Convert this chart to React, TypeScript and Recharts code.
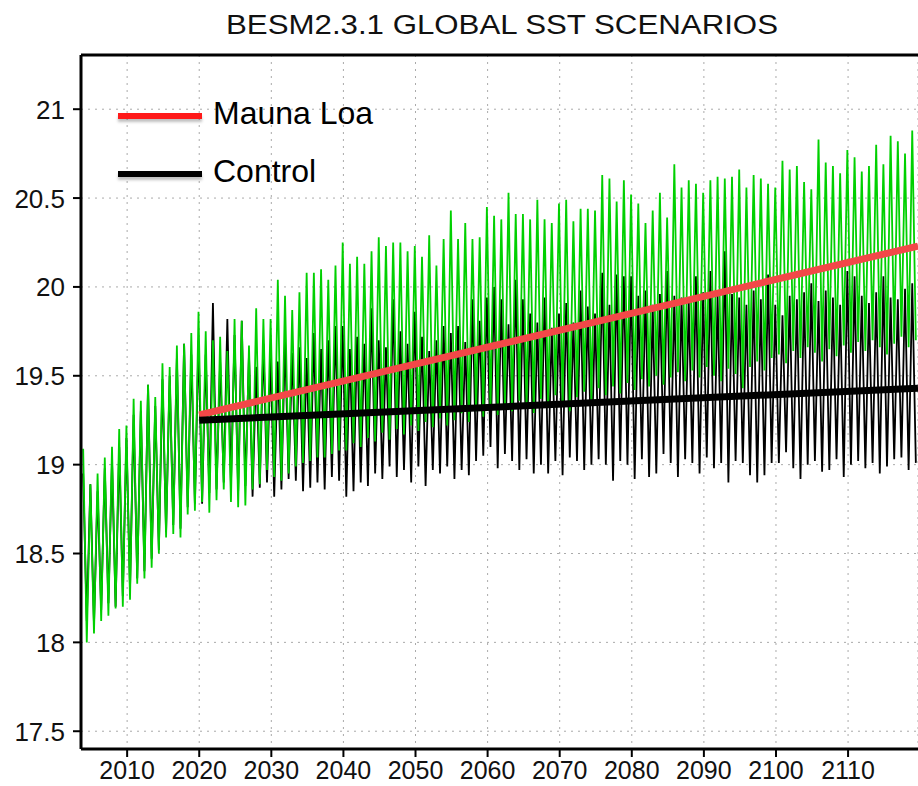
import React from 'react';
import { LineChart, Line, XAxis, YAxis, CartesianGrid, ReferenceLine } from 'recharts';

// one peak (late winter) and one trough per year
const years = Array.from({ length: 116 }, (_, i) => 2004 + i);

const maunaLoaHigh = [
  19.09, 18.89, 18.95, 19.04, 19.10, 19.20, 19.22, 19.37, 19.36, 19.45, 19.38, 19.57, 19.55, 19.67, 19.68, 19.74,
  19.86, 19.75, 19.70, 19.72, 19.64, 19.82, 19.81, 19.67, 19.88, 19.82, 19.82, 20.04, 19.95, 19.87, 19.97, 20.08, 20.08, 20.10, 20.04, 20.12,
  20.25, 20.13, 20.17, 20.13, 20.20, 20.28, 20.23, 20.25, 20.25, 20.20, 20.23, 20.17, 20.29, 20.12, 20.27, 20.43, 20.27, 20.36, 20.27, 20.28,
  20.45, 20.40, 20.38, 20.53, 20.41, 20.41, 20.38, 20.49, 20.38, 20.36, 20.47, 20.49, 20.37, 20.44, 20.44, 20.43, 20.63, 20.61, 20.48, 20.60,
  20.52, 20.47, 20.36, 20.43, 20.53, 20.39, 20.69, 20.56, 20.60, 20.58, 20.53, 20.60, 20.62, 20.61, 20.62, 20.66, 20.56, 20.63, 20.61, 20.58,
  20.56, 20.71, 20.66, 20.68, 20.59, 20.55, 20.83, 20.70, 20.68, 20.64, 20.77, 20.73, 20.65, 20.68, 20.80, 20.69, 20.85, 20.82, 20.75, 20.88,
];

const maunaLoaLow = [
  18.00, 18.05, 18.12, 18.15, 18.19, 18.20, 18.24, 18.33, 18.36, 18.42, 18.50, 18.59, 18.61, 18.59, 18.72, 18.74,
  18.79, 18.73, 18.80, 18.86, 18.79, 18.76, 18.77, 18.86, 18.89, 18.97, 18.93, 18.91, 18.95, 18.99, 19.01, 19.02, 19.04, 19.04, 19.06, 19.08,
  19.08, 19.12, 19.10, 19.15, 19.13, 19.18, 19.14, 19.20, 19.17, 19.22, 19.19, 19.24, 19.21, 19.26, 19.22, 19.25, 19.29, 19.24, 19.30, 19.27,
  19.31, 19.28, 19.34, 19.30, 19.36, 19.32, 19.29, 19.37, 19.33, 19.39, 19.35, 19.30, 19.38, 19.41, 19.36, 19.43, 19.39, 19.44, 19.40, 19.46,
  19.42, 19.48, 19.44, 19.50, 19.45, 19.49, 19.52, 19.47, 19.53, 19.49, 19.55, 19.50, 19.47, 19.54, 19.51, 19.43, 19.55, 19.58, 19.53, 19.60,
  19.62, 19.57, 19.64, 19.60, 19.66, 19.63, 19.58, 19.65, 19.61, 19.67, 19.63, 19.69, 19.64, 19.70, 19.66, 19.62, 19.68, 19.72, 19.66, 19.70,
];

const controlHigh = [
  18.95, 18.89, 18.85, 18.98, 19.02, 19.10, 19.15, 19.28, 19.30, 19.45, 19.33, 19.48, 19.50, 19.60, 19.68, 19.62,
  19.70, 19.62, 19.91, 19.58, 19.82, 19.73, 19.81, 19.62, 19.55, 19.68, 19.60, 19.58, 19.70, 19.63, 19.66, 19.60, 19.74, 19.65, 19.70, 19.78,
  19.78, 19.65, 19.72, 19.68, 19.88, 19.70, 19.66, 19.93, 19.75, 19.68, 19.86, 19.72, 19.64, 19.70, 19.78, 19.74, 19.78, 19.69, 19.93, 19.81,
  19.94, 20.00, 19.93, 19.79, 20.04, 19.93, 19.85, 19.80, 19.94, 19.77, 19.85, 19.91, 19.80, 19.98, 19.89, 19.85, 20.08, 19.90, 20.07, 20.06,
  20.06, 19.95, 19.98, 19.90, 19.96, 20.09, 19.95, 19.94, 19.92, 20.06, 19.97, 20.09, 19.95, 20.20, 19.96, 19.94, 19.90, 19.98, 19.93, 20.07,
  19.90, 19.84, 19.95, 19.93, 19.97, 20.02, 19.92, 19.98, 19.94, 19.90, 20.09, 20.06, 19.95, 19.91, 19.97, 20.06, 19.94, 19.93, 19.99, 20.02,
];

const controlLow = [
  18.12, 18.10, 18.18, 18.22, 18.20, 18.26, 18.30, 18.36, 18.40, 18.47, 18.52, 18.62, 18.66, 18.64, 18.76, 18.78,
  18.78, 18.84, 18.86, 18.90, 18.89, 18.85, 18.88, 18.82, 18.87, 18.90, 18.82, 18.86, 18.92, 18.91, 18.85, 18.87, 18.90, 18.86, 18.93, 18.91,
  18.82, 18.85, 18.90, 18.88, 18.95, 18.92, 18.99, 18.93, 18.97, 18.90, 18.99, 18.88, 18.97, 18.95, 18.99, 18.92, 18.97, 18.94, 19.02, 19.05,
  19.10, 18.98, 19.06, 19.02, 18.97, 19.03, 18.95, 19.00, 18.95, 19.02, 18.94, 19.04, 19.02, 18.97, 19.00, 19.03, 19.00, 18.91, 19.02, 19.00,
  18.92, 19.03, 18.93, 18.95, 19.06, 19.01, 18.93, 19.03, 19.01, 18.95, 19.04, 18.98, 19.01, 18.90, 19.02, 19.01, 18.94, 18.90, 18.94, 19.01,
  19.01, 19.07, 18.98, 18.92, 19.00, 19.02, 18.96, 18.97, 19.03, 18.93, 19.00, 19.02, 18.98, 19.01, 18.95, 18.99, 19.03, 19.04, 18.97, 19.01,
];

// linear trends drawn from 2020 to the right edge
const trendYears = [2020, 2119.7];
const maunaLoaTrend = [19.28, 20.23];
const controlTrend = [19.25, 19.43];

const xTicks = [2010, 2020, 2030, 2040, 2050, 2060, 2070, 2080, 2090, 2100, 2110];
const yTicks = [17.5, 18, 18.5, 19, 19.5, 20, 20.5, 21];

const toSeries = (hi: number[], lo: number[]) =>
  years.flatMap((y, i) => [
    { t: y - 0.1, v: hi[i] },
    { t: y + 0.4, v: lo[i] },
  ]);

const greenData = toSeries(maunaLoaHigh, maunaLoaLow);
const blackData = toSeries(controlHigh, controlLow);
const redTrend = trendYears.map((t, i) => ({ t, v: maunaLoaTrend[i] }));
const blackTrend = trendYears.map((t, i) => ({ t, v: controlTrend[i] }));

const FONT = 'Liberation Sans, Arial, sans-serif';

const XTick = ({ x, y, payload }: any) => (
  <text x={x} y={y + 16} textAnchor="middle" fontFamily={FONT} fontSize={25} fill="#111">
    {payload.value}
  </text>
);

const YTick = ({ x, y, payload }: any) => (
  <text x={x} y={y + 9.5} textAnchor="end" fontFamily={FONT} fontSize={26} fill="#111">
    {payload.value}
  </text>
);

const legendFont: React.CSSProperties = {
  position: 'absolute',
  fontFamily: FONT,
  fontSize: 32,
  lineHeight: '32px',
  color: '#000',
  whiteSpace: 'nowrap',
};

export default function App() {
  return (
    <div style={{ position: 'absolute', left: 0, top: 0, width: 918, height: 786, overflow: 'hidden', background: '#fff' }}>
      <svg width={918} height={50} style={{ position: 'absolute', left: 0, top: 0 }}>
        <text
          x={226}
          y={34}
          textLength={552}
          lengthAdjust="spacingAndGlyphs"
          fontFamily={FONT}
          fontSize={27}
          fill="#111"
        >
          BESM2.3.1 GLOBAL SST SCENARIOS
        </text>
      </svg>

      <LineChart width={918} height={786} margin={{ top: 55, right: 0, bottom: 0, left: 0 }}>
        <CartesianGrid stroke="#aaa" strokeDasharray="2 5" />
        <XAxis
          type="number"
          dataKey="t"
          domain={[2003.6, 2119.7]}
          ticks={xTicks}
          allowDataOverflow
          height={37}
          tick={<XTick />}
          tickSize={8}
          tickMargin={6}
          axisLine={{ stroke: '#000', strokeWidth: 3 }}
          tickLine={{ stroke: '#000', strokeWidth: 2 }}
        />
        <YAxis
          type="number"
          domain={[17.4, 21.305]}
          ticks={yTicks}
          allowDataOverflow
          width={81}
          tick={<YTick />}
          tickSize={8}
          tickMargin={8}
          axisLine={{ stroke: '#000', strokeWidth: 3 }}
          tickLine={{ stroke: '#000', strokeWidth: 2 }}
        />
        <ReferenceLine y={21.305} stroke="#000" strokeWidth={3} />
        <Line data={blackData} dataKey="v" stroke="#000" strokeWidth={1.8} dot={false} isAnimationActive={false} legendType="none" />
        <Line data={greenData} dataKey="v" stroke="#00d000" strokeWidth={1.8} dot={false} isAnimationActive={false} legendType="none" />
        <Line data={redTrend} dataKey="v" name="Mauna Loa" stroke="#f24848" strokeWidth={7} dot={false} isAnimationActive={false} />
        <Line data={blackTrend} dataKey="v" name="Control" stroke="#000" strokeWidth={7} dot={false} isAnimationActive={false} />
      </LineChart>

      <div style={{ position: 'absolute', left: 118, top: 113, width: 84, height: 6, background: '#ff1a1a', boxShadow: '0 3px 3px rgba(0,0,0,0.25)' }} />
      <div style={{ ...legendFont, left: 213, top: 97 }}>Mauna Loa</div>
      <div style={{ position: 'absolute', left: 118, top: 171, width: 84, height: 6, background: '#000', boxShadow: '0 3px 3px rgba(0,0,0,0.25)' }} />
      <div style={{ ...legendFont, left: 213, top: 155 }}>Control</div>
    </div>
  );
}
